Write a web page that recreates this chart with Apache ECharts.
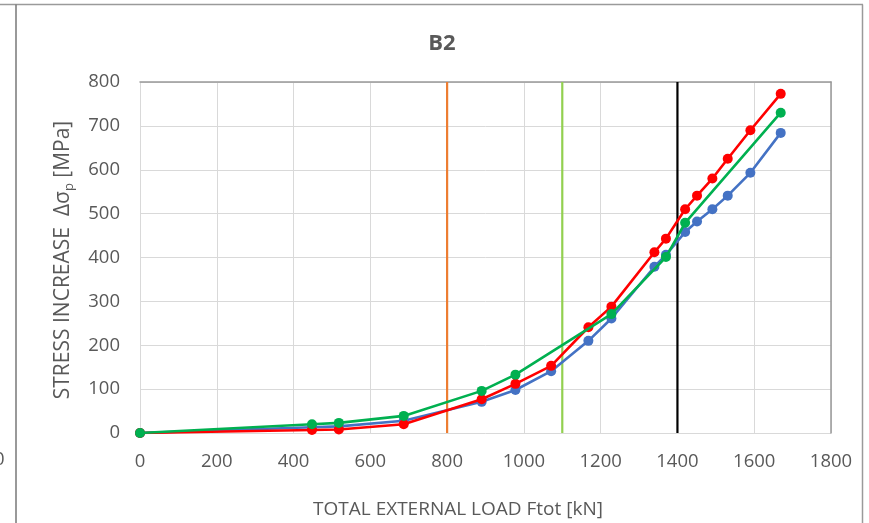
<!DOCTYPE html>
<html>
<head>
<meta charset="utf-8">
<script src="https://cdn.jsdelivr.net/npm/echarts@6/dist/echarts.min.js"></script>
<style>
html,body{margin:0;padding:0;background:#fff;}
#chart{width:869px;height:523px;}
</style>
</head>
<body>
<div id="chart"></div>
<script>
// ---- data ----
const chartTitle = 'B2';
const xAxisTitle = 'TOTAL EXTERNAL LOAD Ftot [kN]';
const yAxisTitle = 'STRESS INCREASE  Δσ{sub|p} [MPa]';

const blueLoad   = [0, 448, 518, 687, 890, 978, 1071, 1168, 1228, 1340, 1370, 1420, 1451, 1491, 1531, 1590, 1669];
const blueStress = [0, 13, 15, 28, 71, 98, 141, 210, 261, 379, 406, 458, 482, 510, 541, 593, 684];

const redLoad    = [0, 448, 518, 687, 890, 978, 1071, 1168, 1228, 1340, 1370, 1420, 1451, 1491, 1531, 1590, 1669];
const redStress  = [0, 7, 8, 20, 77, 112, 153, 241, 288, 412, 443, 510, 541, 580, 625, 690, 773];

const greenLoad   = [0, 448, 518, 687, 890, 978, 1228, 1370, 1420, 1669];
const greenStress = [0, 20, 23, 39, 96, 133, 271, 401, 479, 730];

const refLoads  = [800, 1100, 1400];
const refColors = ['#ED7D31', '#92D050', '#000000'];

const xMin = 0, xMax = 1800, xStep = 200;
const yMin = 0, yMax = 800, yStep = 100;

// ---- chart ----
const zip = (xs, ys) => xs.map((x, i) => [x, ys[i]]);
const FONT = 'Open Sans';
const TXT = '#595959';

const chart = echarts.init(document.getElementById('chart'), null, {renderer: 'canvas'});

function lineSeries(name, color, xs, ys, z) {
  return {
    name, type: 'line', data: zip(xs, ys), z,
    symbol: 'circle', symbolSize: 10,
    itemStyle: {color},
    lineStyle: {color, width: 2.6},
    smooth: false,
    animation: false
  };
}

const refSeries = refLoads.map((v, i) => ({
  type: 'line', data: [[v, yMin], [v, yMax]], symbol: 'none',
  lineStyle: {color: refColors[i], width: 2.2}, z: 1, animation: false, silent: true
}));

chart.setOption({
  animation: false,
  backgroundColor: '#fff',
  grid: [{left: 140, right: 869 - 831, top: 82, bottom: 523 - 433, containLabel: false}],
  xAxis: [{
    type: 'value', min: xMin, max: xMax, interval: xStep,
    axisLine: {show: false}, axisTick: {show: false},
    splitLine: {show: true, lineStyle: {color: '#d9d9d9', width: 1}},
    axisLabel: {color: TXT, fontFamily: FONT, fontSize: 18.5, margin: 19, formatter: v => String(v)}
  }, {
    type: 'value', position: 'top', min: xMin, max: xMax,
    axisLine: {show: true, onZero: false, lineStyle: {color: '#999', width: 1.5}},
    axisTick: {show: false}, axisLabel: {show: false}, splitLine: {show: false}
  }],
  yAxis: [{
    type: 'value', min: yMin, max: yMax, interval: yStep,
    axisLine: {show: false}, axisTick: {show: false},
    splitLine: {show: true, lineStyle: {color: '#d9d9d9', width: 1}},
    axisLabel: {color: TXT, fontFamily: FONT, fontSize: 18.5, margin: 20, formatter: v => String(v)}
  }, {
    type: 'value', position: 'right', min: yMin, max: yMax,
    axisLine: {show: true, onZero: false, lineStyle: {color: '#999', width: 1.5}},
    axisTick: {show: false}, axisLabel: {show: false}, splitLine: {show: false}
  }],
  series: [
    ...refSeries,
    lineSeries('Blue', '#4472C4', blueLoad, blueStress, 3),
    lineSeries('Red', '#FF0000', redLoad, redStress, 4),
    lineSeries('Green', '#00B050', greenLoad, greenStress, 5)
  ],
  graphic: [
    {type: 'line', shape: {x1: 0, y1: 4.5, x2: 863, y2: 4.5}, style: {stroke: '#9a9a9a', lineWidth: 1.5}, silent: true},
    {type: 'line', shape: {x1: 16, y1: 4.5, x2: 16, y2: 523}, style: {stroke: '#777', lineWidth: 1.5}, silent: true},
    {type: 'line', shape: {x1: 862.5, y1: 4.5, x2: 862.5, y2: 523}, style: {stroke: '#9a9a9a', lineWidth: 1.5}, silent: true},
    {type: 'text', left: -6, top: 450, style: {text: '0', fill: TXT, font: '18.5px "Open Sans"'}},
    {type: 'text', x: 442, y: 44, style: {text: chartTitle, fill: TXT, font: 'bold 22px "Open Sans"', align: 'center', verticalAlign: 'middle'}},
    {type: 'text', x: 458, y: 510, style: {text: xAxisTitle, fill: TXT, font: '19px "Open Sans"', align: 'center', verticalAlign: 'middle'}},
    {type: 'text', x: 63, y: 260, rotation: Math.PI / 2,
     style: {text: yAxisTitle, fill: TXT, fontFamily: FONT, fontSize: 21, align: 'center', verticalAlign: 'middle',
       rich: {sub: {fontSize: 13, fill: TXT, fontFamily: FONT, padding: [12, 0, 0, 0]}}}}
  ]
});
</script>
</body>
</html>
